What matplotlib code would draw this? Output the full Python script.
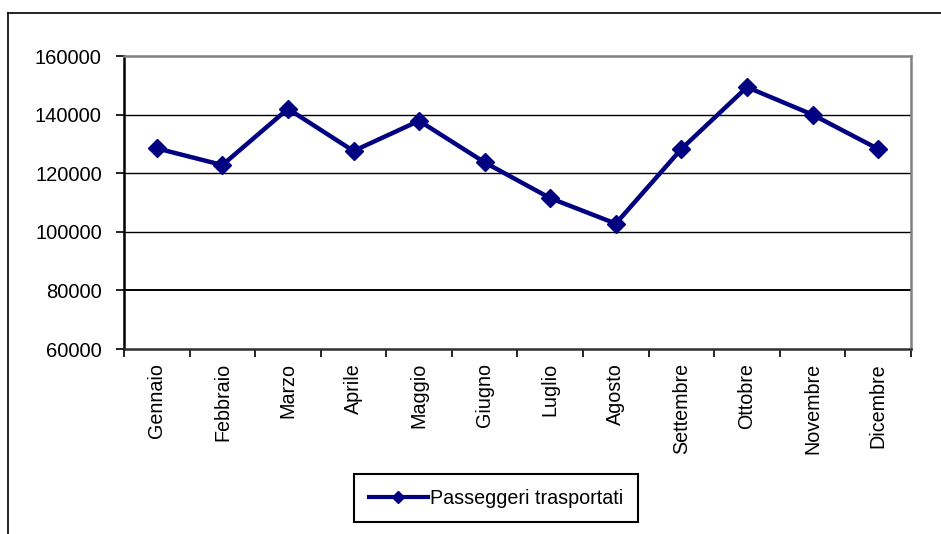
import matplotlib.pyplot as plt
from matplotlib.lines import Line2D

# monthly passengers
mesi = ["Gennaio", "Febbraio", "Marzo", "Aprile", "Maggio", "Giugno",
        "Luglio", "Agosto", "Settembre", "Ottobre", "Novembre", "Dicembre"]
passeggeri = [128500, 122800, 142000, 127600, 137900, 123700,
              111500, 102800, 128300, 149400, 140000, 128300]
y_ticks = [60000, 80000, 100000, 120000, 140000, 160000]
serie_label = "Passeggeri trasportati"

plt.rcParams['font.family'] = ['Liberation Sans', 'DejaVu Sans']
NAVY = '#000080'

fig = plt.figure(figsize=(9.41, 5.34), dpi=100)
ax = fig.add_axes([0.1318, 0.3464, 0.968 - 0.1318, 0.895 - 0.3464])

x = list(range(len(mesi)))
ax.plot(x, passeggeri, color=NAVY, linewidth=3.2, marker='D', markersize=9,
        markeredgecolor=NAVY, markerfacecolor=NAVY, zorder=3, clip_on=False)

ax.set_ylim(60000, 160000)
ax.set_xlim(-0.5, len(mesi) - 0.5)
ax.set_yticks(y_ticks)
ax.set_yticklabels([str(v) for v in y_ticks], fontsize=14.5)

# gridlines
for v in y_ticks[1:-1]:
    ax.axhline(v, color='black', linewidth=1.4 if v == 80000 else 1.0, zorder=1)

# category boundaries as major ticks, labels at centres
ax.set_xticks([i - 0.5 for i in range(len(mesi) + 1)])
ax.set_xticklabels([])
ax.set_xticks(x, minor=True)
ax.set_xticklabels(mesi, minor=True, rotation=90, fontsize=14.2, va='top')
ax.tick_params(axis='x', which='minor', length=0, pad=10)
ax.tick_params(axis='x', which='major', length=6, width=1.2, direction='out')
ax.tick_params(axis='y', length=6, width=1.2, pad=10)

for s in ['top', 'right']:
    ax.spines[s].set_color('#808080')
    ax.spines[s].set_linewidth(1.8)
ax.spines['left'].set_color('black')
ax.spines['left'].set_linewidth(1.8)
ax.spines['bottom'].set_color('#303030')
ax.spines['bottom'].set_linewidth(1.8)

# outer frame of the chart object
fig.add_artist(Line2D([0.0085, 0.0085], [0, 0.9757], color='black', linewidth=1.2))
fig.add_artist(Line2D([0.0085, 1.0], [0.9757, 0.9757], color='black', linewidth=1.2))

handle = Line2D([], [], color=NAVY, linewidth=3, marker='D', markersize=6)
leg = fig.legend([handle], [serie_label], loc='center',
                 bbox_to_anchor=(0.527, 0.0674), fontsize=14.2,
                 fancybox=False, framealpha=1, edgecolor='black',
                 handlelength=3.0, handletextpad=0.1, borderpad=0.75)
leg.get_frame().set_linewidth(1.5)

fig.savefig('out.png', dpi=100)
